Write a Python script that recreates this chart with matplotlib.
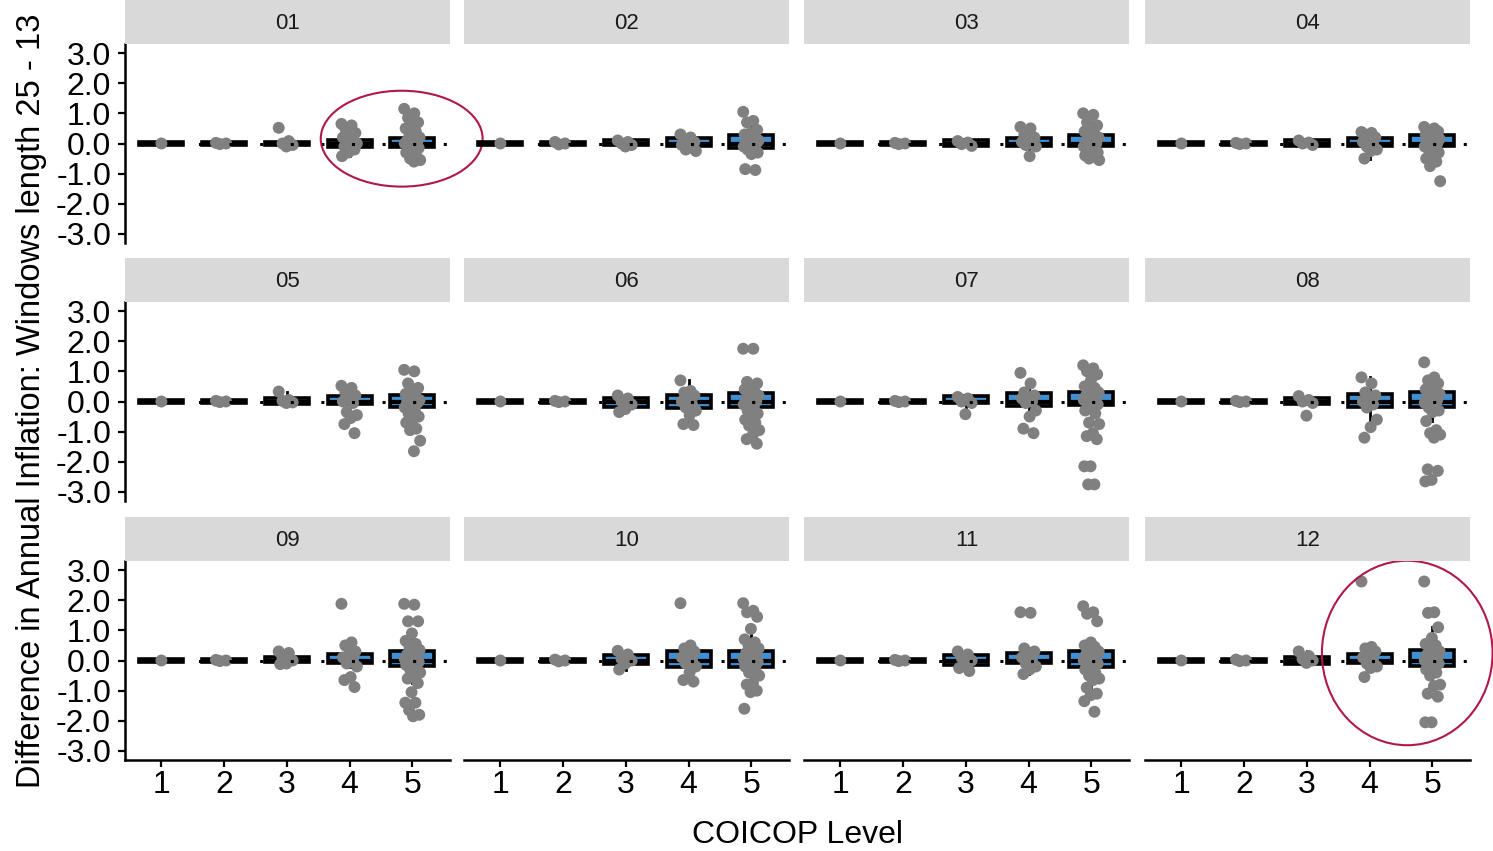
import numpy as np
import matplotlib
matplotlib.use("Agg")
import matplotlib.pyplot as plt
from matplotlib.patches import Ellipse

plt.rcParams['font.family'] = ['Liberation Sans', 'DejaVu Sans']

panels = ['01', '02', '03', '04', '05', '06', '07', '08', '09', '10', '11', '12']
levels = [1, 2, 3, 4, 5]
y_ticks = [-3.0, -2.0, -1.0, 0.0, 1.0, 2.0, 3.0]

# points per panel: list for levels 1..5
p01 = [[0.0], [0.02, 0.0, -0.02], [0.52, 0.08, 0.0, -0.05, -0.1],
       [0.65, 0.6, 0.5, 0.35, 0.3, 0.2, 0.1, 0.05, 0.0, -0.05, -0.1, -0.2, -0.3, -0.42],
       [1.15, 1.0, 0.85, 0.7, 0.65, 0.5, 0.4, 0.3, 0.2, 0.15, 0.1, 0.05, 0.0, 0.0, -0.05, -0.1,
        -0.15, -0.2, -0.3, -0.4, -0.5, -0.55, -0.6]]
p02 = [[0.0], [0.05, 0.0, -0.03], [0.1, 0.05, 0.0, -0.05, -0.1],
       [0.3, 0.2, 0.1, 0.05, 0.0, -0.05, -0.1, -0.2, -0.25],
       [1.05, 0.75, 0.7, 0.45, 0.35, 0.3, 0.2, 0.15, 0.1, 0.05, 0.0, 0.0, -0.05, -0.1, -0.15,
        -0.2, -0.3, -0.35, -0.85, -0.88]]
p03 = [[0.0], [0.02, 0.0, -0.02], [0.08, 0.03, -0.02, -0.08],
       [0.55, 0.5, 0.3, 0.2, 0.1, 0.05, 0.0, -0.05, -0.1, -0.42],
       [1.0, 0.95, 0.7, 0.6, 0.5, 0.4, 0.3, 0.25, 0.2, 0.1, 0.05, 0.0, -0.05, -0.1, -0.15, -0.2,
        -0.3, -0.35, -0.4, -0.45, -0.5, -0.55]]
p04 = [[0.0], [0.02, 0.0, -0.02], [0.1, 0.03, 0.0, -0.05],
       [0.38, 0.35, 0.3, 0.2, 0.1, 0.05, 0.0, -0.1, -0.2, -0.25, -0.5],
       [0.55, 0.5, 0.45, 0.4, 0.35, 0.3, 0.25, 0.2, 0.15, 0.1, 0.05, 0.0, -0.05, -0.1, -0.15,
        -0.2, -0.3, -0.4, -0.5, -0.6, -0.75, -1.25]]
p05 = [[0.0], [0.02, 0.0, -0.02], [0.33, 0.05, 0.02, -0.03, -0.05],
       [0.52, 0.45, 0.3, 0.2, 0.1, 0.0, -0.05, -0.35, -0.45, -0.55, -0.75, -1.05],
       [1.05, 1.0, 0.6, 0.45, 0.3, 0.25, 0.15, 0.1, 0.05, 0.0, 0.0, -0.05, -0.1, -0.2, -0.3,
        -0.4, -0.5, -0.6, -0.7, -0.9, -0.95, -1.3, -1.65]]
p06 = [[0.0], [0.02, 0.0, -0.02], [0.2, 0.1, 0.0, -0.1, -0.25, -0.35],
       [0.7, 0.35, 0.3, 0.2, 0.1, 0.0, -0.1, -0.2, -0.3, -0.45, -0.75, -0.78],
       [1.75, 1.75, 0.65, 0.6, 0.5, 0.4, 0.3, 0.25, 0.2, 0.1, 0.05, 0.0, -0.05, -0.1, -0.2,
        -0.3, -0.4, -0.5, -0.6, -0.7, -0.8, -0.95, -1.1, -1.25, -1.4]]
p07 = [[0.0], [0.02, 0.0, -0.02], [0.15, 0.1, 0.0, -0.05, -0.42],
       [0.95, 0.6, 0.3, 0.2, 0.15, 0.1, 0.0, -0.05, -0.3, -0.5, -0.9, -1.05],
       [1.2, 1.1, 1.0, 0.9, 0.7, 0.5, 0.45, 0.4, 0.3, 0.25, 0.2, 0.15, 0.1, 0.05, 0.0, -0.05,
        -0.1, -0.2, -0.3, -0.4, -0.7, -0.75, -1.05, -1.15, -1.25, -2.15, -2.15, -2.75, -2.75]]
p08 = [[0.0], [0.02, 0.0, -0.02], [0.18, 0.05, 0.0, -0.05, -0.47],
       [0.8, 0.6, 0.3, 0.2, 0.1, 0.0, -0.1, -0.2, -0.6, -0.85, -1.2],
       [1.3, 0.8, 0.7, 0.6, 0.5, 0.4, 0.35, 0.3, 0.25, 0.2, 0.1, 0.05, 0.0, -0.05, -0.1, -0.2,
        -0.3, -0.35, -0.65, -0.95, -1.05, -1.1, -1.2, -2.25, -2.3, -2.6, -2.65]]
p09 = [[0.0], [0.02, 0.0, -0.02], [0.3, 0.25, 0.1, 0.0, -0.1, -0.12],
       [1.88, 0.6, 0.5, 0.3, 0.2, 0.1, 0.0, -0.1, -0.2, -0.55, -0.65, -0.88],
       [1.88, 1.85, 1.3, 1.3, 0.9, 0.65, 0.55, 0.45, 0.35, 0.3, 0.2, 0.15, 0.1, 0.05, 0.0, 0.0,
        -0.05, -0.1, -0.15, -0.2, -0.3, -0.4, -0.5, -0.6, -0.75, -1.05, -1.4, -1.4, -1.65,
        -1.8, -1.85]]
p10 = [[0.0], [0.03, 0.0, -0.03], [0.32, 0.2, 0.05, 0.0, -0.1, -0.3],
       [1.9, 0.5, 0.4, 0.3, 0.2, 0.1, 0.0, -0.1, -0.2, -0.4, -0.65, -0.7],
       [1.9, 1.65, 1.6, 1.45, 1.05, 0.7, 0.6, 0.5, 0.4, 0.3, 0.25, 0.2, 0.1, 0.05, 0.0, 0.0,
        -0.05, -0.1, -0.2, -0.3, -0.4, -0.5, -0.75, -0.8, -1.0, -1.05, -1.6]]
p11 = [[0.0], [0.02, 0.0, -0.02], [0.3, 0.2, 0.1, 0.0, -0.1, -0.25, -0.35],
       [1.6, 1.58, 0.4, 0.3, 0.2, 0.1, 0.0, -0.1, -0.2, -0.3, -0.45],
       [1.8, 1.6, 1.55, 1.3, 0.6, 0.5, 0.45, 0.4, 0.3, 0.25, 0.2, 0.1, 0.05, 0.0, 0.0, -0.05,
        -0.1, -0.2, -0.3, -0.4, -0.5, -0.6, -0.65, -0.9, -1.1, -1.15, -1.35, -1.7]]
p12 = [[0.0], [0.03, 0.0, -0.02], [0.3, 0.15, 0.05, 0.0, -0.08],
       [2.62, 0.45, 0.4, 0.3, 0.2, 0.1, 0.0, -0.1, -0.2, -0.25, -0.55],
       [2.62, 1.6, 1.58, 1.1, 0.75, 0.55, 0.5, 0.4, 0.3, 0.25, 0.2, 0.1, 0.05, 0.0, 0.0, -0.05,
        -0.1, -0.2, -0.3, -0.4, -0.5, -0.8, -0.85, -1.1, -1.2, -2.05, -2.05]]
points = [p01, p02, p03, p04, p05, p06, p07, p08, p09, p10, p11, p12]

# box quartiles per panel (levels 1..5)
box_q1 = [[-0.05, -0.05, -0.05, -0.10, -0.12],
          [-0.05, -0.05, -0.06, -0.09, -0.15],
          [-0.05, -0.05, -0.07, -0.09, -0.09],
          [-0.05, -0.05, -0.09, -0.09, -0.09],
          [-0.05, -0.05, -0.09, -0.09, -0.17],
          [-0.05, -0.05, -0.17, -0.23, -0.18],
          [-0.05, -0.05, -0.06, -0.16, -0.11],
          [-0.05, -0.05, -0.09, -0.17, -0.18],
          [-0.05, -0.05, -0.06, -0.09, -0.19],
          [-0.05, -0.05, -0.13, -0.20, -0.20],
          [-0.05, -0.05, -0.14, -0.09, -0.23],
          [-0.05, -0.05, -0.11, -0.08, -0.19]]
box_q3 = [[0.05, 0.05, 0.06, 0.13, 0.18],
          [0.05, 0.05, 0.10, 0.19, 0.27],
          [0.05, 0.05, 0.13, 0.19, 0.27],
          [0.05, 0.05, 0.10, 0.19, 0.28],
          [0.05, 0.05, 0.10, 0.19, 0.22],
          [0.05, 0.05, 0.10, 0.21, 0.27],
          [0.05, 0.05, 0.19, 0.27, 0.31],
          [0.05, 0.05, 0.10, 0.24, 0.33],
          [0.05, 0.05, 0.11, 0.20, 0.33],
          [0.05, 0.05, 0.19, 0.31, 0.31],
          [0.05, 0.05, 0.17, 0.24, 0.30],
          [0.05, 0.05, 0.11, 0.20, 0.34]]

W, H = 1493, 851
fig = plt.figure(figsize=(W / 100, H / 100), dpi=100)

col_left = [125, 464, 804, 1145]
row_top = [44, 302, 561]
ax_w, ax_h, strip_h = 325, 199, 44

box_fill = '#3f8fd2'
grey = '#808080'
ell_col = '#b0174a'

for i, name in enumerate(panels):
    r, c = divmod(i, 4)
    l = col_left[c] / W
    b = 1 - (row_top[r] + ax_h) / H
    ax = fig.add_axes([l, b, ax_w / W, ax_h / H])
    ax.set_xlim(0.42, 5.6)
    ax.set_ylim(-3.3, 3.3)

    stats = []
    for k, lev in enumerate(levels):
        pts = np.array(points[i][k])
        q1, q3 = box_q1[i][k], box_q3[i][k]
        iqr = q3 - q1
        hi = pts[pts <= q3 + 1.5 * iqr]
        lo = pts[pts >= q1 - 1.5 * iqr]
        stats.append(dict(med=0.0, q1=q1, q3=q3,
                          whislo=min(lo.min() if lo.size else q1, q1),
                          whishi=max(hi.max() if hi.size else q3, q3),
                          fliers=[]))
    ax.bxp(stats, positions=levels, widths=0.7, patch_artist=True, showcaps=False,
           showfliers=False,
           boxprops=dict(facecolor=box_fill, edgecolor='black', linewidth=2.6),
           medianprops=dict(color='black', linewidth=3.0),
           whiskerprops=dict(color='black', linewidth=2.0), zorder=2)

    for k, lev in enumerate(levels):
        pts = np.array(points[i][k])
        n = len(pts)
        offs = ((np.arange(n) * 0.618034) % 1 - 0.5) * 0.26 if n > 1 else np.zeros(1)
        ax.scatter(lev + offs, pts, s=74, color=grey, edgecolors='none', zorder=3)

    ax.axhline(0, color='black', linewidth=2.2, zorder=5,
               linestyle=(6.0, (1.0, 9.014)))

    for sp in ['top', 'right']:
        ax.spines[sp].set_visible(False)
    if c == 0:
        ax.spines['left'].set_linewidth(1.8)
        ax.set_yticks(y_ticks)
        ax.set_yticklabels([f'{v:.1f}' for v in y_ticks])
        ax.tick_params(axis='y', length=5, width=1.6, labelsize=23, pad=5, colors='black')
    else:
        ax.spines['left'].set_visible(False)
        ax.set_yticks([])
    if r == 2:
        ax.spines['bottom'].set_linewidth(1.8)
        ax.set_xticks(levels)
        ax.set_xticklabels([str(v) for v in levels])
        ax.tick_params(axis='x', length=5, width=1.6, labelsize=23, pad=2, colors='black')
    else:
        ax.spines['bottom'].set_visible(False)
        ax.set_xticks([])
    ax.set_facecolor('none')

    # strip
    sax = fig.add_axes([l, 1 - row_top[r] / H, ax_w / W, strip_h / H])
    sax.set_xlim(0, 1)
    sax.set_ylim(0, 1)
    sax.set_facecolor('#d9d9d9')
    for sp in sax.spines.values():
        sp.set_visible(False)
    sax.set_xticks([])
    sax.set_yticks([])
    sax.text(0.5, 0.47, name, ha='center', va='center', fontsize=16, color='#1a1a1a')

    if name == '01':
        ax.add_patch(Ellipse((4.83, 0.16), 2.58, 3.18, fill=False, edgecolor=ell_col,
                             linewidth=1.5, clip_on=False, zorder=6))
    if name == '12':
        ax.add_patch(Ellipse((4.6, 0.25), 2.72, 6.12, fill=False, edgecolor=ell_col,
                             linewidth=1.5, clip_on=False, zorder=6))

fig.text(32 / W, 1 - 401 / H, 'Difference in Annual Inflation: Windows length 25 - 13',
         rotation=90, ha='center', va='center', fontsize=23.5, color='black')
fig.text(797 / W, 1 - 835 / H, 'COICOP Level', ha='center', va='center', fontsize=23,
         color='black')

fig.savefig('out.png', dpi=100)
